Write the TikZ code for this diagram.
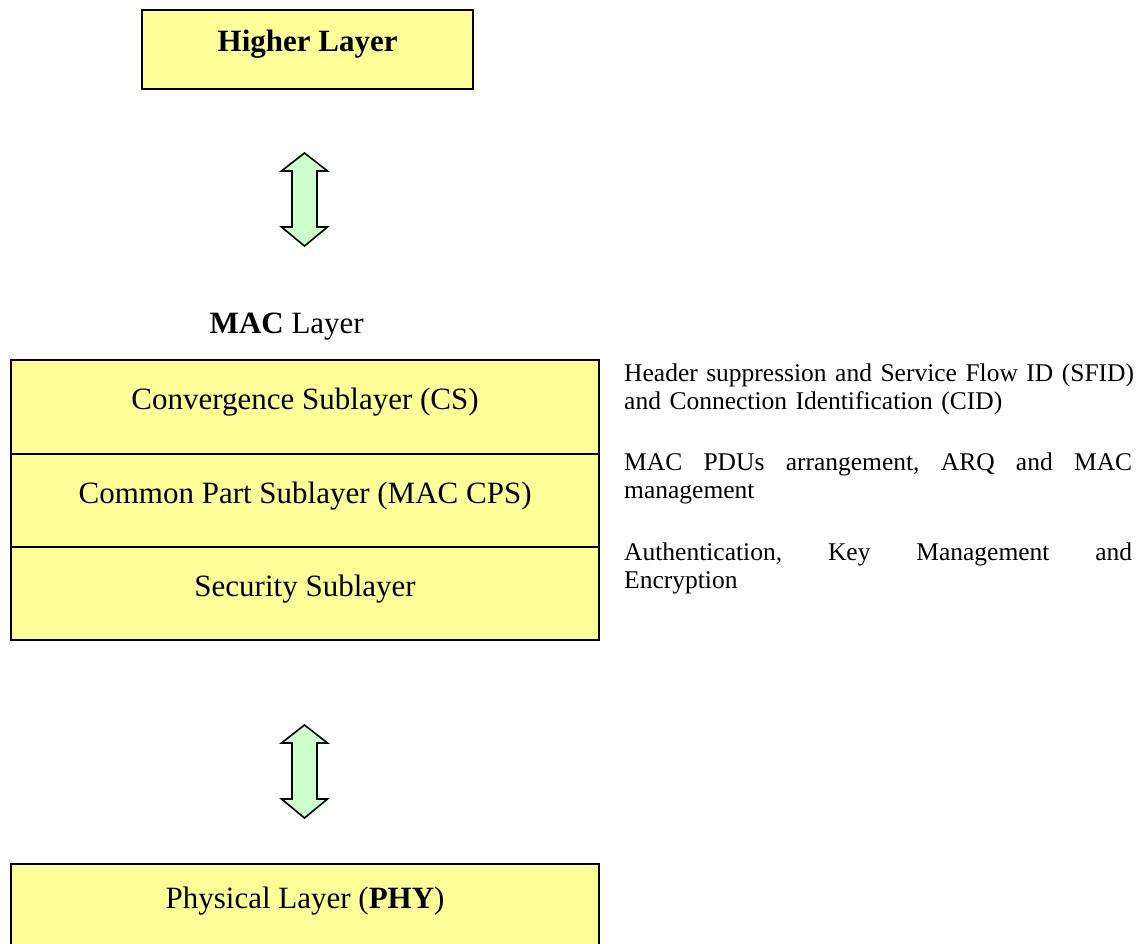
\documentclass[tikz,border=0pt]{standalone}
\usepackage{fontspec}
\setmainfont{Liberation Serif}
\definecolor{layerfill}{HTML}{FFFF99}
\definecolor{arrowfill}{HTML}{CCFFCC}

\begin{document}
\begin{tikzpicture}[x=1pt,y=-1pt,
  layerbox/.style={draw=black, line width=2.2pt, fill=layerfill,
    anchor=north west, inner sep=0pt},
  boxtext/.style={anchor=base, inner sep=0pt,
    font=\fontsize{31}{31}\selectfont},
  notetext/.style={anchor=base west, inner sep=0pt, text width=508pt,
    font=\fontsize{25.5}{28}\selectfont,
    execute at begin node={\hfuzz=20pt \relax}},
  dblarrow/.pic={
    \draw[line width=1.6pt, fill=arrowfill, line join=miter]
      (0,0) -- (23,18) -- (12.5,18) -- (12.5,74) -- (23,74) -- (0,93)
      -- (-23,74) -- (-12.5,74) -- (-12.5,18) -- (-23,18) -- cycle;
  }]
\useasboundingbox (0,0) rectangle (1138,944);
\clip (0,0) rectangle (1138,944);

% higher layer
\node[layerbox, minimum width=331pt, minimum height=79pt] (higher) at (141,9) {};
\node[boxtext, font=\bfseries\fontsize{31}{31}\selectfont] (highertxt)
  at ([yshift=-43pt]higher.north) {Higher Layer};

% arrow between higher layer and MAC
\pic (arrowtop) at (304.5,153) {dblarrow};

% MAC layer title
\node[anchor=base east, inner sep=0pt, font=\fontsize{31}{31}\selectfont]
  (mactitle) at (364,333) {\textbf{MAC} Layer};

% MAC sublayers
\node[layerbox, minimum width=588pt, minimum height=94pt] (cs) at (10,359) {};
\node[layerbox, minimum width=588pt, minimum height=93pt] (cps) at (10,453) {};
\node[layerbox, minimum width=588pt, minimum height=93pt] (sec) at (10,546) {};
\node[boxtext] (cstxt) at ([yshift=-50pt]cs.north) {Convergence Sublayer (CS)};
\node[boxtext] (cpstxt) at ([yshift=-50pt]cps.north) {Common Part Sublayer (MAC CPS)};
\node[boxtext] (sectxt) at ([yshift=-50pt]sec.north) {Security Sublayer};

% sublayer descriptions, first lines spread to the full width
\node[notetext] (csnote) at (624,381)
  {\hbox to 508pt{Header \hfill suppression \hfill and \hfill Service \hfill Flow \hfill ID \hfill (SFID)}
   and Connection Identification (CID)};
\node[notetext] (cpsnote) at (624,470)
  {\hbox to 508pt{MAC \hfill PDUs \hfill arrangement, \hfill ARQ \hfill and \hfill MAC}
   management};
\node[notetext] (secnote) at (624,560)
  {\hbox to 508pt{Authentication, \hfill Key \hfill Management \hfill and}
   Encryption};

% arrow between MAC and PHY
\pic (arrowbottom) at (304.5,725) {dblarrow};

% physical layer
\node[layerbox, minimum width=588pt, minimum height=110pt] (phy) at (10,863) {};
\node[boxtext] (phytxt) at ([yshift=-45pt]phy.north) {Physical Layer (\textbf{PHY})};
\end{tikzpicture}
\end{document}
